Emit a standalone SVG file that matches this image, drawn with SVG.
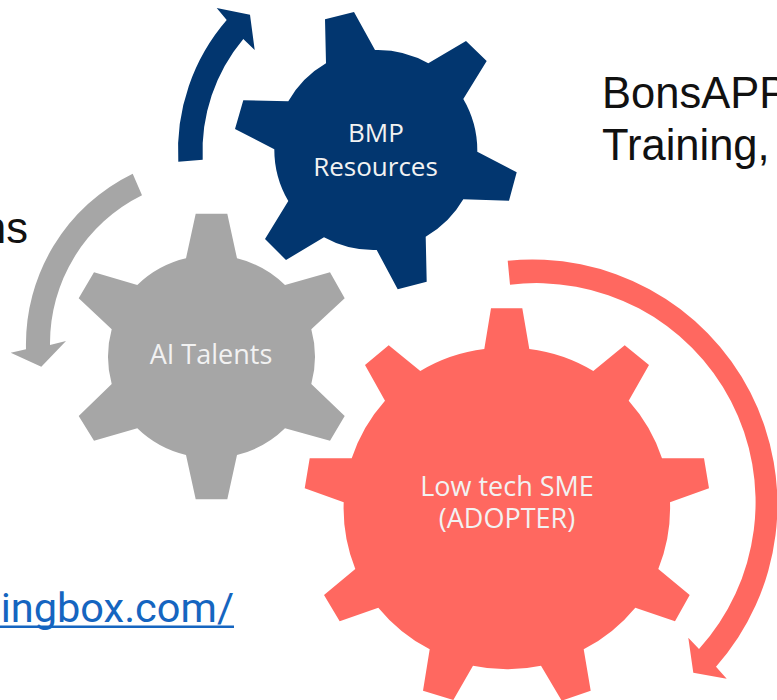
<svg xmlns="http://www.w3.org/2000/svg" width="777" height="700" viewBox="0 0 777 700">
<style>
.lbl{font-family:"Open Sans","Noto Sans",sans-serif;font-size:26px;fill:#f2f2f2;text-anchor:middle}
.lg{font-size:27px}
.body{font-family:"Liberation Sans",Arial,sans-serif;font-size:43.500px;fill:#111}
.link{font-family:Roboto,"Liberation Sans",sans-serif;font-size:41.500px;fill:#1565c0;text-anchor:end}
.blue{fill:#02366f}.gray{fill:#a6a6a6}.red{fill:#ff6860}
</style>
<rect width="777" height="700" fill="#fff"/>
<g id="page-text">
<text class="body" x="602" y="107.500">BonsAPP</text>
<text class="body" x="602" y="160">Training,</text>
<text class="body" x="28" y="243" text-anchor="end">ns</text>
<text class="link" x="234" y="621.500">ingbox.com/</text>
<rect x="0" y="625.500" width="234" height="2.500" fill="#1565c0"/>
</g>
<g id="connectors">
<path class="blue" d="M178.300 161.700A200 200 0 0 1 226.700 20L216.700 8L250 14.700L254.700 50L243.300 39A175 175 0 0 0 202.700 159.700Z"/>
<path class="gray" d="M132.700 173.700A190 190 0 0 0 26 349.300L10.700 352.700L41.300 366.700L66 341L50 345A165 165 0 0 1 142 195.300Z"/>
<path class="red" d="M507.700 260.700A245 245 0 0 1 716 666.700L726.700 678.700L693.300 672.700L688.300 637.700L699 649A219 219 0 0 0 510 284.700Z"/>
</g>
<g id="gear-bmp">
<path class="blue" d="M326 63.300L325 19.300L354 12L375 50A102 102 0 0 1 428.300 63.300L466 41L486.700 61L463.300 99A102 102 0 0 1 477.300 151.700L516.700 172.300L509 200.700L463.300 199.300A102 102 0 0 1 425.700 236.700L426.700 281.700L397.700 289.300L376.700 250A102 102 0 0 1 324 237.300L286 260L265 239L288.300 201A102 102 0 0 1 274.300 149.300L235 129L243.300 100.300L288.300 101.300A102 102 0 0 1 326 63.300Z"/>
<text class="lbl" x="376" y="142">BMP</text>
<text class="lbl" x="375.500" y="175.500">Resources</text>
</g>
<g id="gear-ai">
<path class="gray" d="M186 258.300L195.700 213.700H227.300L237 258.300A104 104 0 0 1 285 285L330 272.300L344.700 298.300L311.300 329.300A104 104 0 0 1 311.300 384L344.700 416L330 440.700L285 428.300A104 104 0 0 1 237 455L227.300 499.300H195.700L186 455A104 104 0 0 1 137.300 428.300L94 440.700L78.700 416L111.700 384A104 104 0 0 1 111.700 329.300L78.700 298.300L94 272.300L137.300 285A104 104 0 0 1 186 258.300Z"/>
<text class="lbl lg" x="211" y="364">AI Talents</text>
</g>
<g id="gear-sme">
<path class="red" d="M484.300 349L491 308.300H522.300L529.300 349A163 163 0 0 1 593.300 371L624.700 345.300L649 365L628.700 400.700A163 163 0 0 1 662 458.300H704L709 488.300L670 502.300A163 163 0 0 1 658.300 569L689.700 595L675 621.300L635.300 607.700A163 163 0 0 1 583.700 649.300L590.700 690.700L561.700 700.700L541 665.700A163 163 0 0 1 473 665.700L453.300 700L423 690.700L429.700 649.300A163 163 0 0 1 378.300 607.700L339.700 621.300L324 595L355.300 569A163 163 0 0 1 343.700 502.300L304.700 488.300L309.700 458.300H351.700A163 163 0 0 1 385 400.700L365 365L388.700 345.300L420.300 371A163 163 0 0 1 484.300 349Z"/>
<text class="lbl lg" x="507" y="495.500">Low tech SME</text>
<text class="lbl lg" x="507" y="528">(ADOPTER)</text>
</g>
</svg>
